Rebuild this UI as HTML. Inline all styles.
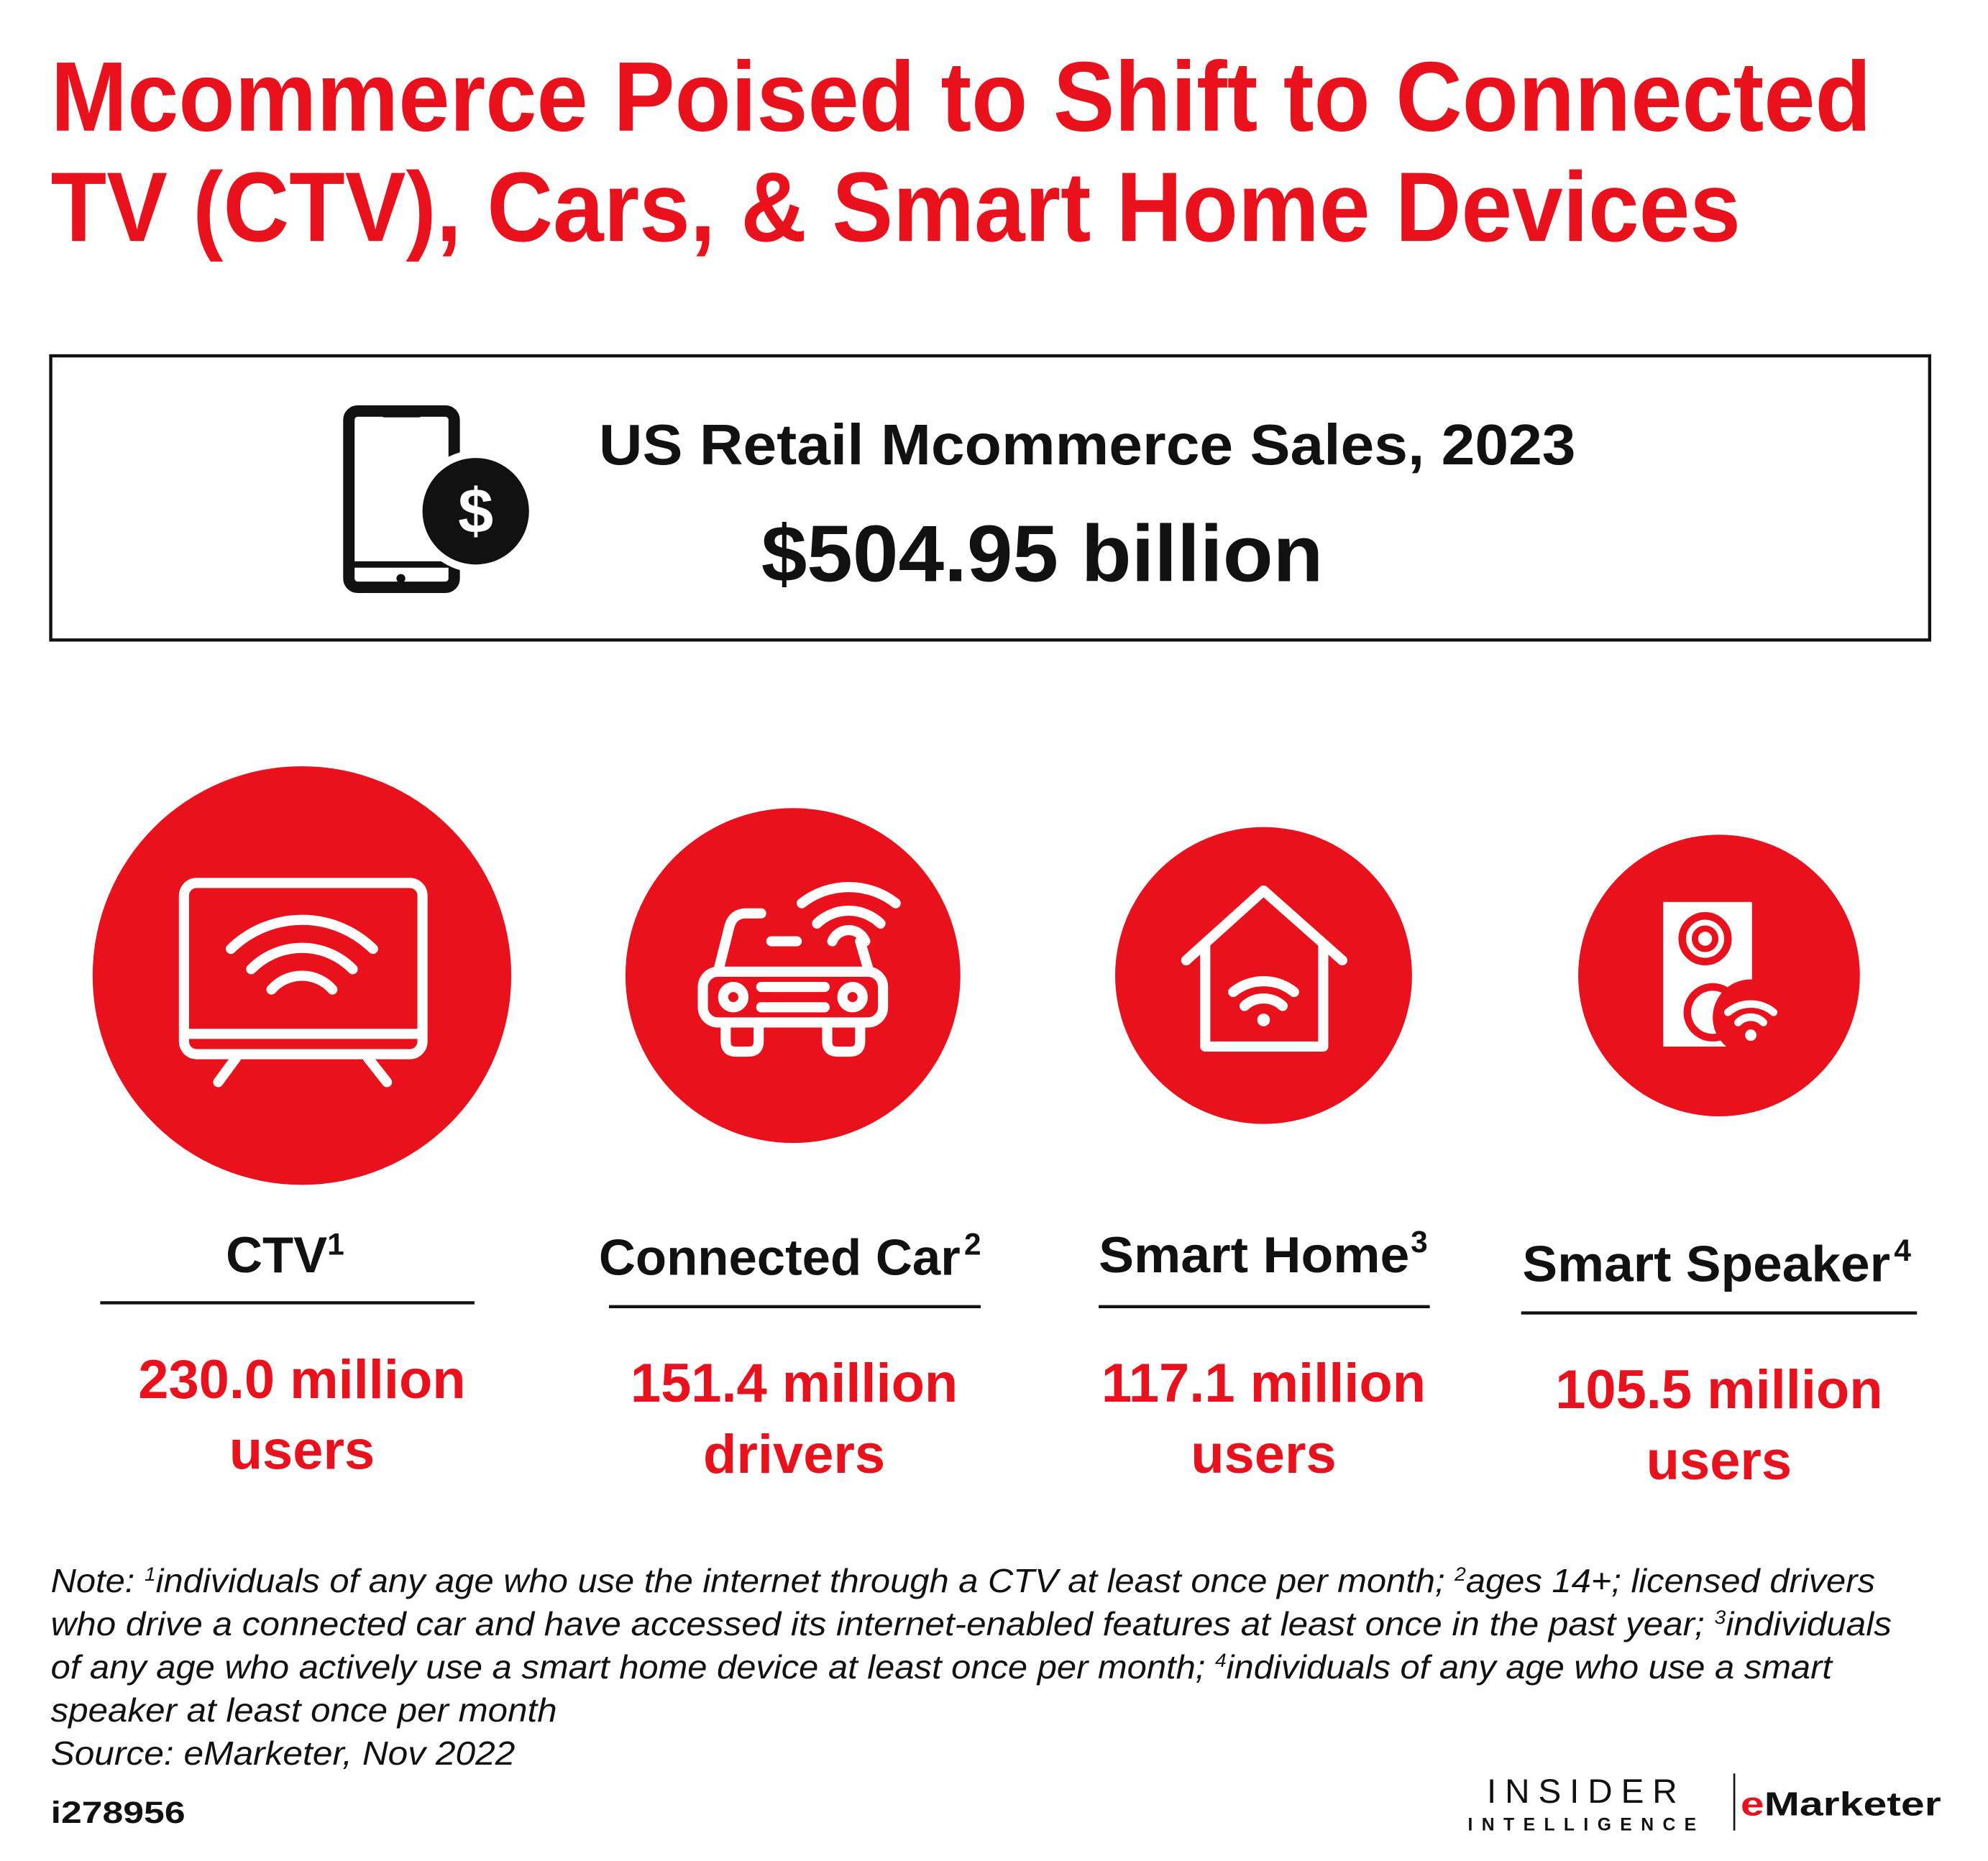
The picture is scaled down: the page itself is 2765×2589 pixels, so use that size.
<!DOCTYPE html>
<html><head><meta charset="utf-8"><style>html,body{margin:0;padding:0;background:#fff}svg{display:block}</style></head>
<body>
<svg width="2765" height="2589" viewBox="0 0 1567 1467" preserveAspectRatio="none" xmlns="http://www.w3.org/2000/svg" font-family="Liberation Sans, sans-serif">
<rect width="1600" height="1500" fill="#fff"/>
<g fill="#e8111c" font-weight="bold" font-size="78">
<text x="40" y="103" textLength="1435" lengthAdjust="spacingAndGlyphs">Mcommerce Poised to Shift to Connected</text>
<text x="40" y="190" textLength="1332" lengthAdjust="spacingAndGlyphs">TV (CTV), Cars, &amp; Smart Home Devices</text>
</g>
<rect x="40" y="280.5" width="1481" height="224" fill="none" stroke="#111" stroke-width="2.5"/>
<rect x="275" y="324" width="83" height="139" rx="7" fill="none" stroke="#111" stroke-width="9"/>
<rect x="300" y="320" width="33" height="9" rx="3" fill="#111"/>
<line x1="275" y1="445" x2="358" y2="445" stroke="#111" stroke-width="5"/>
<circle cx="316" cy="456" r="3.5" fill="#111"/>
<circle cx="375" cy="403" r="48" fill="#fff"/>
<circle cx="375" cy="403" r="42" fill="#111"/>
<text x="375" y="420" fill="#fff" font-size="50" font-weight="bold" text-anchor="middle">$</text>
<text x="472" y="366" font-size="45" font-weight="bold" fill="#111" textLength="770" lengthAdjust="spacingAndGlyphs">US Retail Mcommerce Sales, 2023</text>
<text x="600" y="458" font-size="63" font-weight="bold" fill="#111" textLength="443" lengthAdjust="spacingAndGlyphs">$504.95 billion</text>
<circle cx="238" cy="769" r="165" fill="#e8111c"/>
<circle cx="625" cy="769" r="132" fill="#e8111c"/>
<circle cx="996" cy="769" r="117" fill="#e8111c"/>
<circle cx="1355" cy="769" r="111" fill="#e8111c"/>
<g fill="none" stroke="#fff" stroke-width="8" stroke-linecap="round" stroke-linejoin="round">
<rect x="145" y="696" width="188" height="135" rx="10"/>
<line x1="145" y1="815" x2="333" y2="815"/>
<line x1="186" y1="834" x2="172" y2="853"/>
<line x1="290" y1="834" x2="305" y2="853"/>
<path d="M182 748 A80 80 0 0 1 294 748"/>
<path d="M198 764 A56 56 0 0 1 278 764"/>
<path d="M214 780 A32 32 0 0 1 262 780"/>
<path d="M600 720 L588 720 Q578 720 575 730 L566 766"/>
<path d="M685 766 L678 742"/>
<rect x="554" y="766" width="142" height="40" rx="12"/>
<path d="M572 806 v15 q0 8 8 8 h10 q8 0 8 -8 v-15"/>
<path d="M652 806 v15 q0 8 8 8 h10 q8 0 8 -8 v-15"/>
<circle cx="578" cy="786" r="8"/>
<circle cx="672" cy="786" r="8"/>
<line x1="600" y1="778" x2="650" y2="778"/>
<line x1="600" y1="794" x2="650" y2="794"/>
<line x1="608" y1="742" x2="628" y2="742"/>
<path d="M632 712 A60 60 0 0 1 706 712"/>
<path d="M644 728 A36 36 0 0 1 694 728"/>
<path d="M656 742 A14 14 0 0 1 682 742"/>
<polyline points="935,757 996,702 1058,757"/>
<polyline points="950,745 950,825 1043,825 1043,745"/>
<path d="M972 782 A38 38 0 0 1 1020 782"/>
<path d="M981 793 A22 22 0 0 1 1011 793"/>
</g>
<circle cx="996" cy="804" r="5" fill="#fff"/>
<rect x="1311" y="711" width="70" height="114" fill="#fff"/>
<circle cx="1344" cy="740" r="18" fill="none" stroke="#e8111c" stroke-width="6"/>
<circle cx="1344" cy="740" r="8" fill="none" stroke="#e8111c" stroke-width="5"/>
<circle cx="1350" cy="798" r="20" fill="none" stroke="#e8111c" stroke-width="6"/>
<circle cx="1380" cy="802" r="30" fill="#e8111c"/>
<g fill="none" stroke="#fff" stroke-width="6" stroke-linecap="round">
<path d="M1362 798 A28 28 0 0 1 1398 798"/>
<path d="M1370 806 A14 14 0 0 1 1390 806"/>
</g>
<circle cx="1380" cy="816" r="4.5" fill="#fff"/>
<g font-size="40" font-weight="bold" fill="#111">
<text x="178" y="1003">CTV<tspan font-size="24" dy="-14">1</tspan></text>
<text x="472" y="1005" textLength="285" lengthAdjust="spacingAndGlyphs">Connected Car</text><text x="760" y="989" font-size="24">2</text>
<text x="866" y="1003" textLength="245" lengthAdjust="spacingAndGlyphs">Smart Home</text><text x="1112" y="987" font-size="24">3</text>
<text x="1200" y="1010" textLength="290" lengthAdjust="spacingAndGlyphs">Smart Speaker</text><text x="1493" y="994" font-size="24">4</text>
</g>
<g stroke="#111" stroke-width="2.5">
<line x1="79" y1="1027" x2="374" y2="1027"/>
<line x1="480" y1="1030" x2="773" y2="1030"/>
<line x1="866" y1="1030" x2="1127" y2="1030"/>
<line x1="1199" y1="1035" x2="1511" y2="1035"/>
</g>
<g font-size="43" font-weight="bold" fill="#e8111c" text-anchor="middle">
<text x="238" y="1102">230.0 million</text><text x="238" y="1158">users</text>
<text x="626" y="1105">151.4 million</text><text x="626" y="1161">drivers</text>
<text x="996" y="1105">117.1 million</text><text x="996" y="1161">users</text>
<text x="1355" y="1110">105.5 million</text><text x="1355" y="1166">users</text>
</g>
<g font-size="26" font-style="italic" fill="#111">
<text x="40" y="1255" textLength="1438" lengthAdjust="spacingAndGlyphs">Note: <tspan font-size="15" dy="-9">1</tspan><tspan dy="9">individuals of any age who use the internet through a CTV at least once per month; </tspan><tspan font-size="15" dy="-9">2</tspan><tspan dy="9">ages 14+; licensed drivers</tspan></text>
<text x="40" y="1289" textLength="1451" lengthAdjust="spacingAndGlyphs">who drive a connected car and have accessed its internet-enabled features at least once in the past year; <tspan font-size="15" dy="-9">3</tspan><tspan dy="9">individuals</tspan></text>
<text x="40" y="1323" textLength="1404" lengthAdjust="spacingAndGlyphs">of any age who actively use a smart home device at least once per month; <tspan font-size="15" dy="-9">4</tspan><tspan dy="9">individuals of any age who use a smart</tspan></text>
<text x="40" y="1357" textLength="399" lengthAdjust="spacingAndGlyphs">speaker at least once per month</text>
<text x="40" y="1391" textLength="366" lengthAdjust="spacingAndGlyphs">Source: eMarketer, Nov 2022</text>
</g>
<text x="40" y="1437" font-size="24" font-weight="bold" fill="#111" textLength="106" lengthAdjust="spacingAndGlyphs">i278956</text>
<text x="1172" y="1421" font-size="27" fill="#111" textLength="150" lengthAdjust="spacing">INSIDER</text>
<text x="1157" y="1443" font-size="14" font-weight="bold" fill="#111" textLength="180" lengthAdjust="spacing">INTELLIGENCE</text>
<line x1="1367" y1="1398" x2="1367" y2="1443" stroke="#111" stroke-width="1.5"/>
<text x="1372" y="1431" font-size="26" font-weight="bold" fill="#111" textLength="158" lengthAdjust="spacingAndGlyphs"><tspan fill="#e8111c">e</tspan>Marketer</text>
</svg>
</body></html>
